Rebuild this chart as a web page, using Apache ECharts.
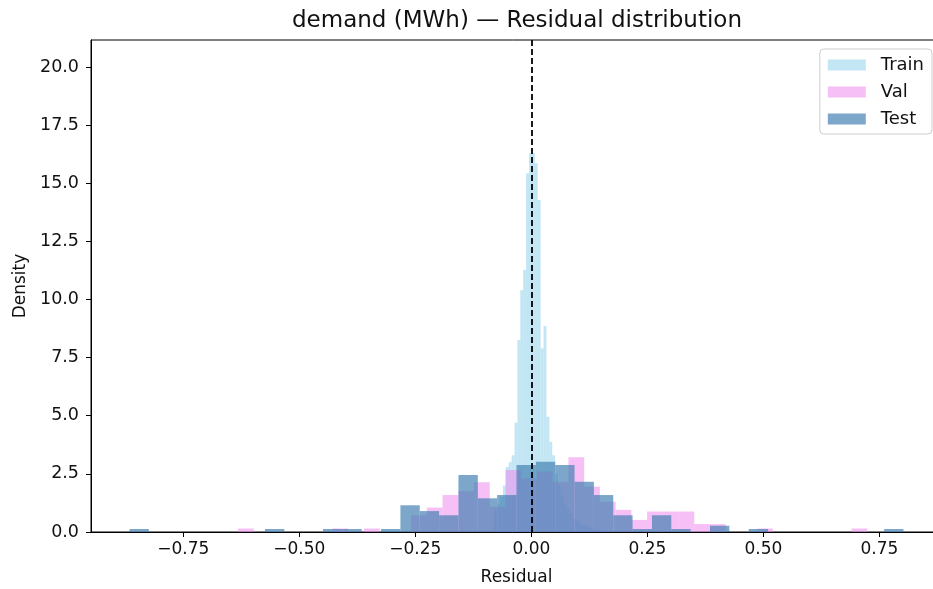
<!DOCTYPE html>
<html>
<head>
<meta charset="utf-8">
<script src="https://cdn.jsdelivr.net/npm/echarts@6/dist/echarts.min.js"></script>
<style>
    html, body { margin: 0; padding: 0; background: #fff; }
    #residualChart { width: 933px; height: 589px; }
</style>
</head>
<body>
<div id="residualChart"></div>
<script>
// Histogram bins: left edge of the first bin, bin width, density per bin
const trainStart = -0.08;
const trainWidth = 0.00625;
const trainDensity = [
    1.0, 1.2, 1.5, 2.0, 2.8, 3.0, 3.3, 4.7, 8.26, 10.4,
    11.27, 15.43, 16.29, 16.29, 15.86, 14.28, 7.9, 8.86, 4.96, 3.88,
    3.3, 2.5, 2.0, 1.6, 1.2, 1.0, 0.8, 0.6, 0.5, 0.4,
    0.3, 0.3, 0.2, 0.2, 0.15, 0.1, 0.1, 0.1, 0.05, 0.05
];

const valStart = -0.632;
const valWidth = 0.0339;
const valDensity = [
    0.15, 0, 0, 0, 0, 0, 0.15, 0, 0.15, 0,
    0, 0.72, 1.05, 1.59, 1.76, 2.14, 1.09, 2.67, 2.3, 2.6,
    2.16, 3.21, 1.95, 1.3, 0.95, 0.52, 0.88, 0.88, 0.88, 0.34,
    0.34, 0, 0, 0.15, 0, 0, 0, 0, 0, 0.15
];

const testStart = -0.866;
const testWidth = 0.0417;
const testDensity = [
    0.13, 0, 0, 0, 0, 0, 0, 0.13, 0, 0,
    0.13, 0.13, 0, 0.13, 1.15, 0.9, 0.72, 2.45, 1.45, 1.59,
    2.88, 3.02, 2.88, 2.16, 1.59, 0.72, 0.13, 0.72, 0.13, 0,
    0.27, 0, 0.13, 0, 0, 0, 0, 0, 0, 0.13
];

const xTicks = [-0.75, -0.5, -0.25, 0, 0.25, 0.5, 0.75];
const yTicks = [0, 2.5, 5, 7.5, 10, 12.5, 15, 17.5, 20];

function toBins(start, width, heights) {
    return heights.map((h, i) => [start + i * width, start + (i + 1) * width, h]);
}

function renderBar(params, api) {
    const h = api.value(2);
    if (!h) return null;
    const p0 = api.coord([api.value(0), 0]);
    const p1 = api.coord([api.value(1), h]);
    return {
        type: 'rect',
        shape: { x: p0[0], y: p1[1], width: p1[0] - p0[0], height: p0[1] - p1[1] },
        style: api.style()
    };
}

const font = 'DejaVu Sans';
const chart = echarts.init(document.getElementById('residualChart'));

const option = {
    animation: false,
    backgroundColor: '#fff',
    title: {
        text: 'demand (MWh) \u2014 Residual distribution',
        left: 517,
        top: 10,
        padding: 0,
        textAlign: 'center',
        textStyle: { fontFamily: font, fontSize: 23, fontWeight: 'normal', color: '#111' }
    },
    legend: {
        data: ['Train', 'Val', 'Test'],
        orient: 'vertical',
        right: 1,
        top: 49,
        icon: 'rect',
        itemWidth: 38,
        itemHeight: 11,
        itemGap: 7,
        padding: [6, 8, 5, 8],
        backgroundColor: '#fff',
        borderColor: '#ccc',
        borderWidth: 1,
        borderRadius: 4,
        textStyle: { fontFamily: font, fontSize: 18, color: '#111', lineHeight: 20, padding: [0, 0, 0, 10] }
    },
    grid: {
        left: 91,
        right: -9,
        top: 40,
        bottom: 57,
        outerBoundsMode: 'none',
        containLabel: false,
        show: true,
        borderColor: '#000',
        borderWidth: 1
    },
    xAxis: {
        type: 'value',
        min: -0.949,
        max: 0.885,
        name: 'Residual',
        nameLocation: 'middle',
        nameGap: 37,
        nameTextStyle: { fontFamily: font, fontSize: 17, color: '#111' },
        axisLine: { show: true, onZero: false, lineStyle: { color: '#000', width: 1 } },
        axisTick: { show: true, length: 5, lineStyle: { color: '#000' }, customValues: xTicks },
        axisLabel: {
            fontFamily: font, fontSize: 17, color: '#111', margin: 9,
            customValues: xTicks,
            formatter: v => (v < 0 ? '\u2212' : '') + Math.abs(v).toFixed(2)
        },
        splitLine: { show: false }
    },
    yAxis: {
        type: 'value',
        min: 0,
        max: 21.16,
        name: 'Density',
        nameLocation: 'middle',
        nameRotate: 90,
        nameGap: 62,
        nameTextStyle: { fontFamily: font, fontSize: 17, color: '#111' },
        axisLine: { show: true, onZero: false, lineStyle: { color: '#000', width: 1 } },
        axisTick: { show: true, length: 5, lineStyle: { color: '#000' }, customValues: yTicks },
        axisLabel: {
            fontFamily: font, fontSize: 17.5, color: '#111', margin: 12,
            customValues: yTicks,
            formatter: v => v.toFixed(1)
        },
        splitLine: { show: false }
    },
    series: [
        {
            name: 'Train',
            type: 'custom',
            renderItem: renderBar,
            itemStyle: { color: 'rgba(135, 206, 235, 0.5)' },
            encode: { x: [0, 1], y: 2 },
            data: toBins(trainStart, trainWidth, trainDensity)
        },
        {
            name: 'Val',
            type: 'custom',
            renderItem: renderBar,
            itemStyle: { color: 'rgba(238, 130, 238, 0.5)' },
            encode: { x: [0, 1], y: 2 },
            data: toBins(valStart, valWidth, valDensity)
        },
        {
            name: 'Test',
            type: 'custom',
            renderItem: renderBar,
            itemStyle: { color: 'rgba(70, 130, 180, 0.7)' },
            encode: { x: [0, 1], y: 2 },
            data: toBins(testStart, testWidth, testDensity),
            markLine: {
                silent: true,
                symbol: 'none',
                label: { show: false },
                lineStyle: { color: '#000', type: [6, 3], width: 1.8 },
                data: [{ xAxis: 0 }]
            }
        }
    ]
};

chart.setOption(option);

window.addEventListener('resize', function() {
    chart.resize();
});
</script>
</body>
</html>
